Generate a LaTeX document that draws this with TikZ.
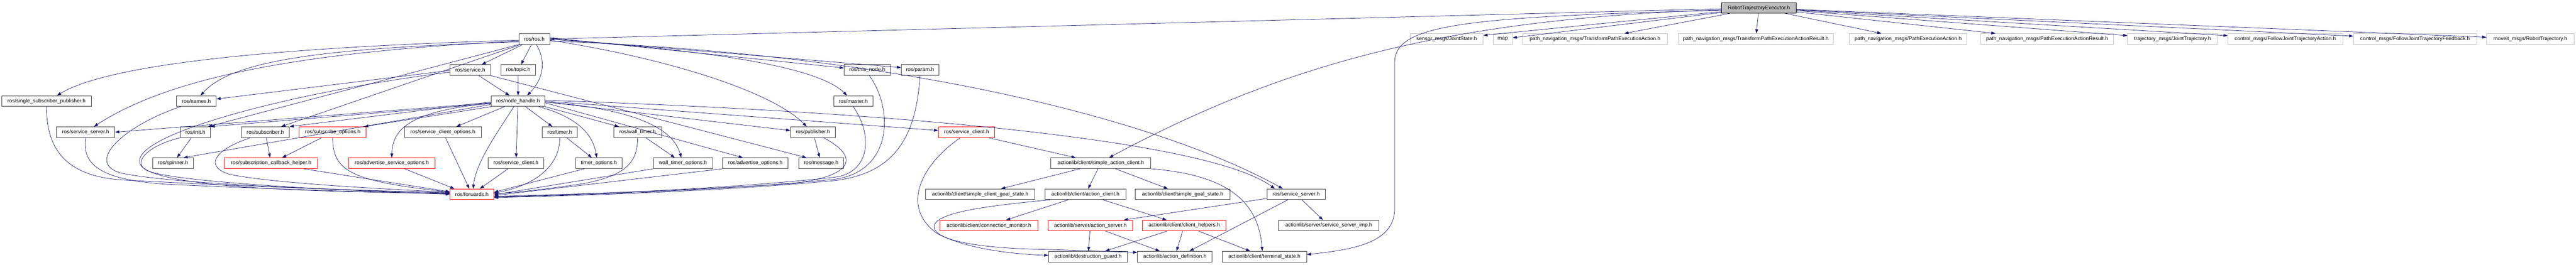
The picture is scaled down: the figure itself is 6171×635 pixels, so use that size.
\documentclass[tikz,border=0pt]{standalone}
\usepackage{fontspec}
\setmainfont{Liberation Sans}
\usetikzlibrary{arrows.meta}
\definecolor{edgec}{HTML}{191970}
\definecolor{boxc}{HTML}{404040}
\definecolor{redc}{HTML}{FF0000}
\definecolor{grayb}{HTML}{BFBFBF}
\begin{document}
\begin{tikzpicture}[x=1pt,y=-1pt,
  hdr/.style={draw=boxc,fill=white,line width=1.2pt,minimum height=25.5pt,inner sep=0pt,font=\fontsize{12.6}{14}\selectfont},
  trunc/.style={hdr,draw=redc},
  ext/.style={hdr,draw=grayb},
  root/.style={hdr,fill=grayb,draw=black},
  dep/.style={draw=edgec,line width=0.9pt,-{Triangle[length=10pt,width=7pt]}}]
\useasboundingbox (0,0) rectangle (6171,635);

% rank 0
\node[root,minimum width=179pt] (rte) at (4213.5,19) {RobotTrajectoryExecutor.h};
% rank 1
\node[hdr,minimum width=74pt] (ros) at (1280,93.5) {ros/ros.h};
\node[ext,minimum width=175pt] (js) at (3465.5,93.5) {sensor\_msgs/JointState.h};
\node[ext,minimum width=46pt] (map) at (3600,93.5) {map};
\node[ext,minimum width=348pt] (tpea) at (3821,93.5) {path\_navigation\_msgs/TransformPathExecutionAction.h};
\node[ext,minimum width=372pt] (tpear) at (4206,93.5) {path\_navigation\_msgs/TransformPathExecutionActionResult.h};
\node[ext,minimum width=282pt] (pea) at (4571,93.5) {path\_navigation\_msgs/PathExecutionAction.h};
\node[ext,minimum width=318pt] (pear) at (4904,93.5) {path\_navigation\_msgs/PathExecutionActionResult.h};
\node[ext,minimum width=215pt] (jt) at (5204.5,93.5) {trajectory\_msgs/JointTrajectory.h};
\node[ext,minimum width=275pt] (fjta) at (5474.5,93.5) {control\_msgs/FollowJointTrajectoryAction.h};
\node[ext,minimum width=295pt] (fjtf) at (5785.5,93.5) {control\_msgs/FollowJointTrajectoryFeedback.h};
\node[ext,minimum width=209pt] (rt) at (6061.5,93.5) {moveit\_msgs/RobotTrajectory.h};
% rank 2
\node[hdr,minimum width=97pt] (service) at (1126.5,168) {ros/service.h};
\node[hdr,minimum width=83pt] (topic) at (1241.5,168) {ros/topic.h};
\node[hdr,minimum width=111pt] (thisnode) at (2077.5,168) {ros/this\_node.h};
\node[hdr,minimum width=90pt] (param) at (2204,168) {ros/param.h};
% rank 3
\node[hdr,minimum width=215pt] (sing) at (111.5,242.5) {ros/single\_subscriber\_publisher.h};
\node[hdr,minimum width=95pt] (names) at (470.5,242.5) {ros/names.h};
\node[hdr,minimum width=128pt] (nh) at (1241,242.5) {ros/node\_handle.h};
\node[hdr,minimum width=94pt] (master) at (2044,242.5) {ros/master.h};
% rank 4
\node[hdr,minimum width=140pt] (ssl) at (205,317) {ros/service\_server.h};
\node[hdr,minimum width=72pt] (init) at (468,317) {ros/init.h};
\node[hdr,minimum width=115pt] (sub) at (635.5,317) {ros/subscriber.h};
\node[trunc,minimum width=160pt] (subopt) at (797,317) {ros/subscribe\_options.h};
\node[hdr,minimum width=184pt] (sco) at (1061,317) {ros/service\_client\_options.h};
\node[hdr,minimum width=84pt] (timer) at (1341,317) {ros/timer.h};
\node[hdr,minimum width=115pt] (wtimer) at (1527.5,317) {ros/wall\_timer.h};
\node[hdr,minimum width=107pt] (pub) at (1947.5,317) {ros/publisher.h};
\node[trunc,minimum width=135pt] (scr) at (2315.5,317) {ros/service\_client.h};
% rank 5
\node[hdr,minimum width=97pt] (spin) at (414.5,391.5) {ros/spinner.h};
\node[trunc,minimum width=223pt] (sch) at (649.5,391.5) {ros/subscription\_callback\_helper.h};
\node[trunc,minimum width=207pt] (aso) at (938.5,391.5) {ros/advertise\_service\_options.h};
\node[hdr,minimum width=134pt] (scb) at (1236,391.5) {ros/service\_client.h};
\node[hdr,minimum width=111pt] (topt) at (1434.5,391.5) {timer\_options.h};
\node[hdr,minimum width=142pt] (wtopt) at (1636,391.5) {wall\_timer\_options.h};
\node[hdr,minimum width=157pt] (aopt) at (1809.5,391.5) {ros/advertise\_options.h};
\node[hdr,minimum width=108pt] (msg) at (1967,391.5) {ros/message.h};
\node[hdr,minimum width=240pt] (sac) at (2637,391.5) {actionlib/client/simple\_action\_client.h};
% rank 6
\node[trunc,minimum width=105pt] (fwd) at (1130.5,466) {ros/forwards.h};
\node[hdr,minimum width=262pt] (scgs) at (2348,466) {actionlib/client/simple\_client\_goal\_state.h};
\node[hdr,minimum width=194pt] (ac) at (2600,466) {actionlib/client/action\_client.h};
\node[hdr,minimum width=226pt] (sgs) at (2833,466) {actionlib/client/simple\_goal\_state.h};
\node[hdr,minimum width=140pt] (ssr) at (3105,466) {ros/service\_server.h};
% rank 7
\node[trunc,minimum width=234pt] (cm) at (2369,541) {actionlib/client/connection\_monitor.h};
\node[trunc,minimum width=202pt] (as) at (2612,541) {actionlib/server/action\_server.h};
\node[trunc,minimum width=200pt] (ch) at (2837,541) {actionlib/client/client\_helpers.h};
\node[hdr,minimum width=240pt] (ssi) at (3183,541) {actionlib/server/service\_server\_imp.h};
% rank 8
\node[hdr,minimum width=189pt] (dg) at (2606.5,615.5) {actionlib/destruction\_guard.h};
\node[hdr,minimum width=179pt] (ad) at (2814.5,615.5) {actionlib/action\_definition.h};
\node[hdr,minimum width=202pt] (ts) at (3029,615.5) {actionlib/client/terminal\_state.h};

% ---- edges from the root
\draw[dep] ([yshift=-2pt]rte.west) -- (ros.east);
\foreach \t in {js,map,tpea,tpear,pea,pear,jt,fjta,fjtf,rt} \draw[dep] (rte) -- (\t);
\draw[dep] ([yshift=-4pt]rte.west) .. controls (3500,45) and (3100,140) .. ([xshift=20pt]sac.north);
\draw[dep] ([yshift=-6pt]rte.west) .. controls (3500,40) and (3341,60) .. (3341,150) -- (3341,500) .. controls (3341,580) and (3250,598) .. ([yshift=5pt]ts.east);

% ---- ros/ros.h
\draw[dep] (ros) -- (service);
\draw[dep] (ros) -- (topic);
\draw[dep] ([xshift=5pt]ros.south) .. controls (1310,150) and (1300,190) .. ([xshift=22pt]nh.north);
\draw[dep] ([yshift=-3pt]ros.west) .. controls (600,115) and (250,160) .. ([xshift=25pt]sing.north);
\draw[dep] ([yshift=-5pt]ros.west) .. controls (700,125) and (400,190) .. ([xshift=20pt]ssl.north);
\draw[dep] ([yshift=-7pt]ros.west) .. controls (800,115) and (560,140) .. ([xshift=10pt]names.north);
\draw[dep] (ros.south west) -- ([xshift=-6pt]init.north east);
\draw[dep] ([xshift=5pt]ros.south west) -- ([xshift=-20pt]sub.north east);
\draw[dep] ([yshift=3pt]ros.east) -- ([yshift=5pt]thisnode.west);
\draw[dep] ([yshift=1pt]ros.east) -- ([yshift=6pt]param.west);
\draw[dep] ([yshift=-1pt]ros.east) .. controls (1700,120) and (1960,160) .. ([xshift=-15pt]master.north);
\draw[dep] ([yshift=-3pt]ros.east) .. controls (1600,140) and (1850,220) .. ([xshift=-15pt]pub.north);
\draw[dep] ([yshift=-5pt]ros.east) .. controls (2200,130) and (2800,300) .. ([xshift=-32pt]ssr.north);

% ---- ros/service.h and ros/topic.h
\draw[dep] (service) -- (nh);
\draw[dep] (topic) -- (nh);
\draw[dep] ([yshift=-1pt]service.west) -- ([yshift=5pt]names.east);
\draw[dep] (service.south east) -- ([xshift=-35pt]msg.north);
\draw[dep] ([yshift=-5pt]service.west) .. controls (700,220) and (280,330) .. (340,400) .. controls (400,455) and (800,460) .. ([yshift=2pt]fwd.west);

% ---- ros/node_handle.h
\draw[dep] ([xshift=-10pt]nh.south) .. controls (1190,320) and (1140,390) .. ([xshift=3pt]fwd.north);
\draw[dep] (nh) -- (scb);
\draw[dep] (nh) -- (timer);
\draw[dep] ([xshift=-15pt]nh.south east) .. controls (1380,280) and (1420,320) .. ([xshift=-5pt]topt.north);
\draw[dep] (nh.south east) -- ([xshift=-45pt]wtimer.north);
\draw[dep] (nh) -- (sco);
\draw[dep] (nh.south west) -- ([xshift=-5pt]subopt.north east);
\draw[dep] ([yshift=-2pt]nh.west) -- (sub.north east);
\draw[dep] ([yshift=-4pt]nh.west) -- (ssl.east);
\draw[dep] ([yshift=-6pt]nh.west) -- (init.north east);
\draw[dep] ([yshift=-8pt]nh.west) -- ([xshift=25pt]spin.north);
\draw[dep] ([yshift=-5pt]nh.west) .. controls (1000,265) and (940,300) .. (aso.north);
\draw[dep] ([yshift=-2pt]nh.east) .. controls (1500,260) and (1610,300) .. ([xshift=-4pt]wtopt.north);
\draw[dep] ([yshift=-4pt]nh.east) -- ([xshift=-30pt]aopt.north);
\draw[dep] ([yshift=-2pt]nh.east) -- ([yshift=4pt]pub.west);
\draw[dep] (nh.east) -- ([yshift=4pt]scr.west);
\draw[dep] ([yshift=2pt]nh.east) .. controls (2200,270) and (2900,340) .. ([xshift=-51pt]ssr.north);

% ---- into ros/forwards.h
\draw[dep] (sing.south) .. controls (111,360) and (160,425) .. (300,432) .. controls (600,448) and (900,458) .. ([yshift=4pt]fwd.west);
\draw[dep] (ssl.south) .. controls (195,400) and (250,432) .. (400,442) .. controls (700,456) and (950,462) .. ([yshift=1pt]fwd.west);
\draw[dep] ([xshift=-38pt]names.south) .. controls (300,300) and (200,390) .. (290,415) .. controls (400,440) and (800,456) .. ([yshift=3pt]fwd.west);
\draw[dep] ([xshift=-36pt]init.south) .. controls (350,350) and (310,395) .. (360,412) .. controls (450,440) and (850,458) .. (fwd.west);
\draw[dep] ([xshift=-35pt]sub.south) .. controls (510,360) and (490,400) .. (550,418) .. controls (650,440) and (950,455) .. ([yshift=5pt]fwd.west);
\draw[dep] ([xshift=78pt]sch.south) -- ([yshift=6pt]fwd.west);
\draw[dep] (subopt.south) .. controls (797,410) and (840,435) .. ([yshift=5.5pt]fwd.west);
\draw[dep] ([xshift=31pt]aso.south) -- ([xshift=-42pt]fwd.north);
\draw[dep] (sco) -- (fwd);
\draw[dep] (scb) -- (fwd);
\draw[dep] (timer.south) .. controls (1341,400) and (1280,445) .. ([yshift=3pt]fwd.east);
\draw[dep] ([xshift=-35pt]topt.south) -- ([yshift=5pt]fwd.east);
\draw[dep] (wtimer.south) .. controls (1527,390) and (1500,420) .. (1400,440) .. controls (1300,455) and (1230,462) .. ([yshift=1pt]fwd.east);
\draw[dep] (wtopt.south west) -- ([yshift=-1pt]fwd.east);
\draw[dep] (aopt.south west) -- ([yshift=-3pt]fwd.east);
\draw[dep] ([xshift=25pt]pub.south) .. controls (2050,370) and (2060,420) .. (1900,440) .. controls (1600,460) and (1300,468) .. ([yshift=-5pt]fwd.east);
\draw[dep] (master.south) .. controls (2095,330) and (2080,415) .. (2000,425) .. controls (1700,458) and (1300,469) .. ([yshift=-6pt]fwd.east);
\draw[dep] ([xshift=5pt]thisnode.south) .. controls (2140,260) and (2140,410) .. (2000,430) .. controls (1700,460) and (1300,470) .. ([yshift=-7pt]fwd.east);
\draw[dep] (param.south) .. controls (2195,320) and (2150,415) .. (2000,433) .. controls (1700,462) and (1300,471) .. ([yshift=-8pt]fwd.east);

% ---- other roscpp edges
\draw[dep] (sub) -- (sch);
\draw[dep] (subopt) -- (sch);
\draw[dep] (init) -- (spin);
\draw[dep] (timer) -- (topt);
\draw[dep] (wtimer) -- (wtopt);
\draw[dep] (pub) -- (msg);

% ---- actionlib
\draw[dep] (sac) -- (ac);
\draw[dep] (sac) -- (sgs);
\draw[dep] ([xshift=-50pt]sac.south) -- ([xshift=50pt]scgs.north);
\draw[dep] (sac.south east) .. controls (2950,420) and (3015,490) .. ([xshift=-5pt]ts.north);
\draw[dep] ([xshift=52pt]scr.south) -- ([xshift=-60pt]sac.north);
\draw[dep] ([xshift=-15pt]scr.south) .. controls (2200,400) and (2160,500) .. (2245,560) .. controls (2320,600) and (2440,610) .. ([yshift=3pt]dg.west);
\draw[dep] (ac) -- (cm);
\draw[dep] (ac) -- (ch);
\draw[dep] ([xshift=-85pt]ac.south) .. controls (2350,495) and (2250,510) .. (2238,540) .. controls (2230,585) and (2400,597) .. (2500,598) -- ([yshift=10pt]ad.west);
\draw[dep] (as) -- (dg);
\draw[dep] (as) -- (ad);
\draw[dep] (ch) -- (dg);
\draw[dep] (ch) -- (ad);
\draw[dep] (ch) -- (ts);
\draw[dep] (ssr) -- (ssi);
\draw[dep] ([yshift=-10pt]ssr.west) -- ([xshift=80pt]as.north);
\draw[dep] ([xshift=-20pt]ssr.south) -- ([xshift=35pt]ad.north);
\end{tikzpicture}
\end{document}
